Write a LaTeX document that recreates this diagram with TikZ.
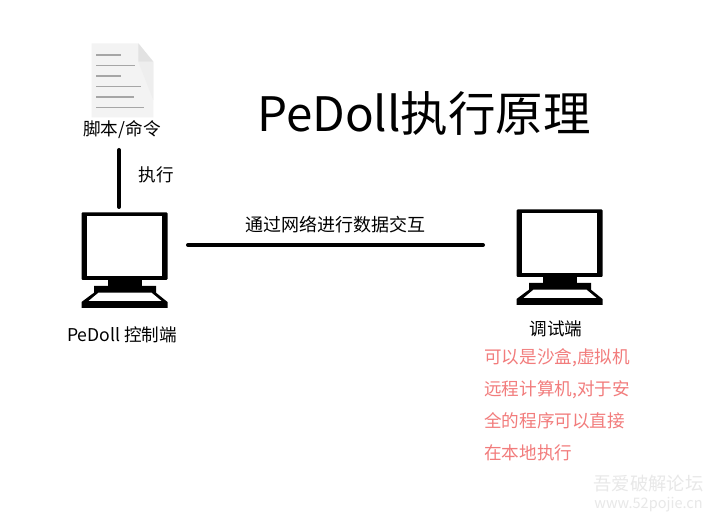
\documentclass[tikz,border=0pt]{standalone}
\usepackage{fontspec}
\setmainfont{Noto Sans CJK SC}
\usetikzlibrary{positioning}
\tikzset{
  lbl/.style={inner sep=0pt,font=\fontsize{17.6}{20}\selectfont},
  note/.style={lbl,anchor=west,text=notered},
  link/.style={line width=4pt,line cap=round},
  pics/monitor/.style={code={
    \fill[rounded corners=1pt] (-43,-33.5) rectangle (43,34);
    \fill[white] (-37.5,-29.5) rectangle (37.5,30);
    \fill (-16.5,34) rectangle (17,40.5);
    \fill (-30.5,40) -- (31.5,40) -- (31.5,46.7) -- (43,56) -- (43,62) -- (-43,62) -- (-43,56) -- (-30.5,46.7) -- cycle;
    \fill[white] (-26,46.7) -- (27,46.7) -- (37,55) -- (-36,55) -- cycle;
  }}
}
\definecolor{notered}{HTML}{F27C7C}
\definecolor{pagegray}{HTML}{F3F3F3}
\definecolor{foldgray}{HTML}{E2E2E2}
\definecolor{linegray}{HTML}{A6A6A6}
\begin{document}
\begin{tikzpicture}[x=1pt,y=-1pt]
\useasboundingbox[fill=white] (0,0) rectangle (713,521);
% script icon
\fill[pagegray] (91.7,43.3)--(138.3,43.3)--(153.3,61.7)--(153.3,117.3)--(91.7,117.3)--cycle;
\fill[foldgray!60] (138.3,61.7)--(153.3,61.7)--(153.3,100)--cycle;
\fill[foldgray] (138.3,43.3)--(153.3,61.7)--(138.3,61.7)--cycle;
\foreach \y/\e in {55/121,65.3/135,76/121,86.7/141,97/134,107.7/144.3}
  \draw[linegray,line width=1.2pt] (96,\y)--(\e,\y);
\node[lbl] (script) at (122,130) {脚本/命令};
% computers
\pic at (124.5,246) {monitor};
\pic at (559.5,243) {monitor};
\coordinate (runtop) at (119,150);
\coordinate (runend) at (119,207);
\coordinate (ctrl) at (188,245);
\coordinate (debug) at (483,245);
\draw[link] (runtop)--(runend);
\draw[link] (ctrl)--(debug);
% texts
\node[inner sep=0pt,font=\fontsize{47.5}{50}\selectfont] (title) at (424,114) {PeDoll执行原理};
\node[lbl] (run) at (156,175) {执行};
\node[lbl,font=\fontsize{18}{20}\selectfont] (net) at (335,225) {通过网络进行数据交互};
\node[lbl] (ctrltext) at (122,335) {PeDoll 控制端};
\node[lbl] (debugtext) at (556,329) {调试端};
\node[note] (n1) at (484,358) {可以是沙盒,虚拟机};
\node[note] (n2) at (484,390) {远程计算机,对于安};
\node[note] (n3) at (484,421) {全的程序可以直接};
\node[note] (n4) at (484,453) {在本地执行};
% watermark
\node[inner sep=0pt,text=black!9,font=\fontsize{18.3}{20}\selectfont] (mark) at (648.5,484) {吾爱破解论坛};
\node[inner sep=0pt,text=black!9,font=\fontsize{14.5}{15}\selectfont] (site) at (648.5,505) {www.52pojie.cn};
\end{tikzpicture}
\end{document}
